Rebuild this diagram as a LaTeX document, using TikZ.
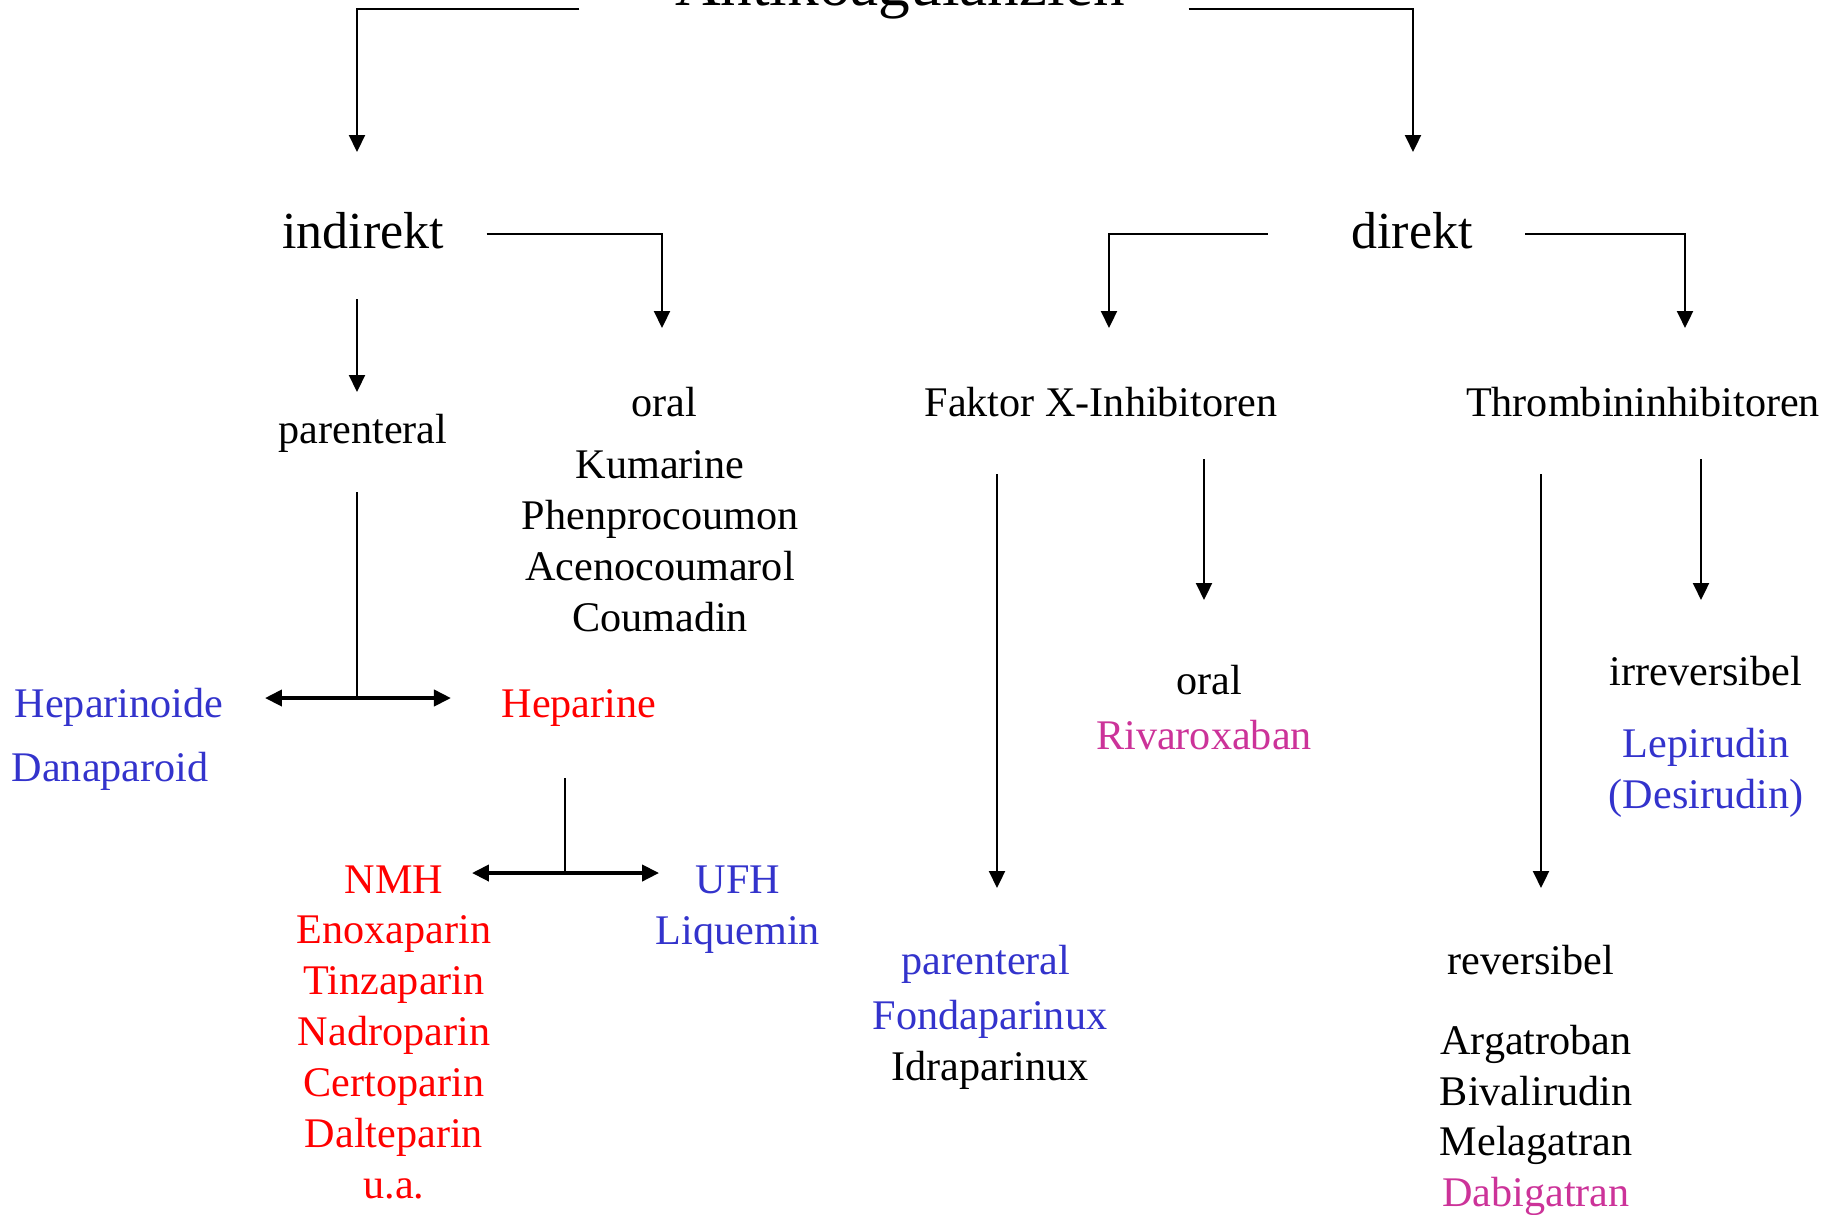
\documentclass[tikz,border=0pt]{standalone}
\usepackage{fontspec}
\setmainfont{Liberation Serif}
\usetikzlibrary{arrows.meta, calc}

\definecolor{drugblue}{RGB}{51,51,204}
\definecolor{drugred}{RGB}{255,0,0}
\definecolor{drugmagenta}{RGB}{204,51,153}

\begin{document}
\begin{tikzpicture}[
    x=0.01cm, y=-0.01cm,
    item/.style={inner sep=0pt, anchor=base, font=\fontsize{12}{14.5}\selectfont},
    head/.style={inner sep=0pt, anchor=base, font=\fontsize{14.8}{18}\selectfont},
    list/.style={inner sep=0pt, anchor=north, align=center, font=\fontsize{12}{14.5}\selectfont},
    dep/.style={-{Triangle[width=0.16cm, length=0.17cm]}, line width=0.6pt},
    split/.style={{Triangle[width=0.16cm, length=0.17cm]}-{Triangle[width=0.16cm, length=0.17cm]}, line width=1.1pt},
    stem/.style={line width=0.6pt}
]
\useasboundingbox (0,0) rectangle (1837,1214);

% Title (cut at the top edge)
\node[item, font=\fontsize{18}{22}\selectfont] (title) at (900,5) {Antikoagulanzien};

% indirekt / direkt
\node[head] (indirekt) at (363,248) {indirekt};
\node[head] (direkt) at (1412,248) {direkt};

\draw[dep] ($(title.base west)+(-95,4)$) -| ($(indirekt.base)+(-6,-96)$);
\draw[dep] ($(title.base east)+(63,4)$) -| ($(direkt.base)+(1,-96)$);

% indirekt branch
\node[item] (parL) at (363,443) {parenteral};
\node[item] (oralL) at (664,416) {oral};
\node[list] (vka) at (660,450) {Kumarine\\Phenprocoumon\\Acenocoumarol\\Coumadin};

\draw[dep] ($(indirekt.base)+(-6,51)$) -- ($(parL.base)+(-6,-51)$);
\draw[dep] ($(indirekt.base east)+(42,-14)$) -| ($(oralL.base)+(-2,-88)$);

% parenteral: Heparinoide / Heparine
\node[item, anchor=base west, text=drugblue] (hepinoid) at (14,717) {Heparinoide};
\node[item, anchor=base west, text=drugblue] (dana) at (11,781) {Danaparoid};
\node[item, text=drugred] (hep) at (579,717) {Heparine};

\draw[split] ($(hepinoid.base east)+(41,-19)$) -- ($(hep.base west)+(-50,-19)$);
\draw[stem] ($(parL.base)+(-6,49)$) -- ++(0,206);

% Heparine: NMH / UFH
\node[item, text=drugred] (nmh) at (394,893) {NMH};
\node[list, text=drugred] (lmwh) at (394,915) {Enoxaparin\\Tinzaparin\\Nadroparin\\Certoparin\\Dalteparin\\u.a.};
\node[item, text=drugblue] (ufh) at (738,893) {UFH};
\node[item, text=drugblue] (liquemin) at (738,944) {Liquemin};

\draw[split] ($(nmh.base east)+(28,-20)$) -- ($(ufh.base west)+(-36,-20)$);
\draw[stem] ($(hep.base)+(-14,61)$) -- ++(0,95);

% direkt branch
\node[item] (fxa) at (1101,416) {Faktor X-Inhibitoren};
\node[item] (thr) at (1643,416) {Thrombininhibitoren};

\draw[dep] ($(direkt.base west)+(-83,-14)$) -| ($(fxa.base)+(8,-88)$);
\draw[dep] ($(direkt.base east)+(52,-14)$) -| ($(thr.base)+(42,-88)$);

% Faktor X-Inhibitoren
\node[item] (oralR) at (1209,694) {oral};
\node[item, text=drugmagenta] (riva) at (1204,749) {Rivaroxaban};
\node[item, text=drugblue] (parR) at (986,974) {parenteral};
\node[list] (fonda) at (990,999) {\textcolor{drugblue}{Fondaparinux}\\Idraparinux};

\draw[dep] ($(fxa.base)+(-104,58)$) -- ($(parR.base)+(11,-86)$);
\draw[dep] ($(fxa.base)+(103,43)$) -- ($(oralR.base)+(-5,-94)$);

% Thrombininhibitoren
\node[item] (irrev) at (1706,685) {irreversibel};
\node[list, text=drugblue] (lepi) at (1706,727) {Lepirudin\\(Desirudin)};
\node[item] (rev) at (1531,974) {reversibel};
\node[list] (dti) at (1536,1024) {Argatroban\\Bivalirudin\\Melagatran\\\textcolor{drugmagenta}{Dabigatran}};

\draw[dep] ($(thr.base)+(-102,58)$) -- ($(rev.base)+(10,-86)$);
\draw[dep] ($(thr.base)+(58,43)$) -- ($(irrev.base)+(-5,-85)$);

\end{tikzpicture}
\end{document}
